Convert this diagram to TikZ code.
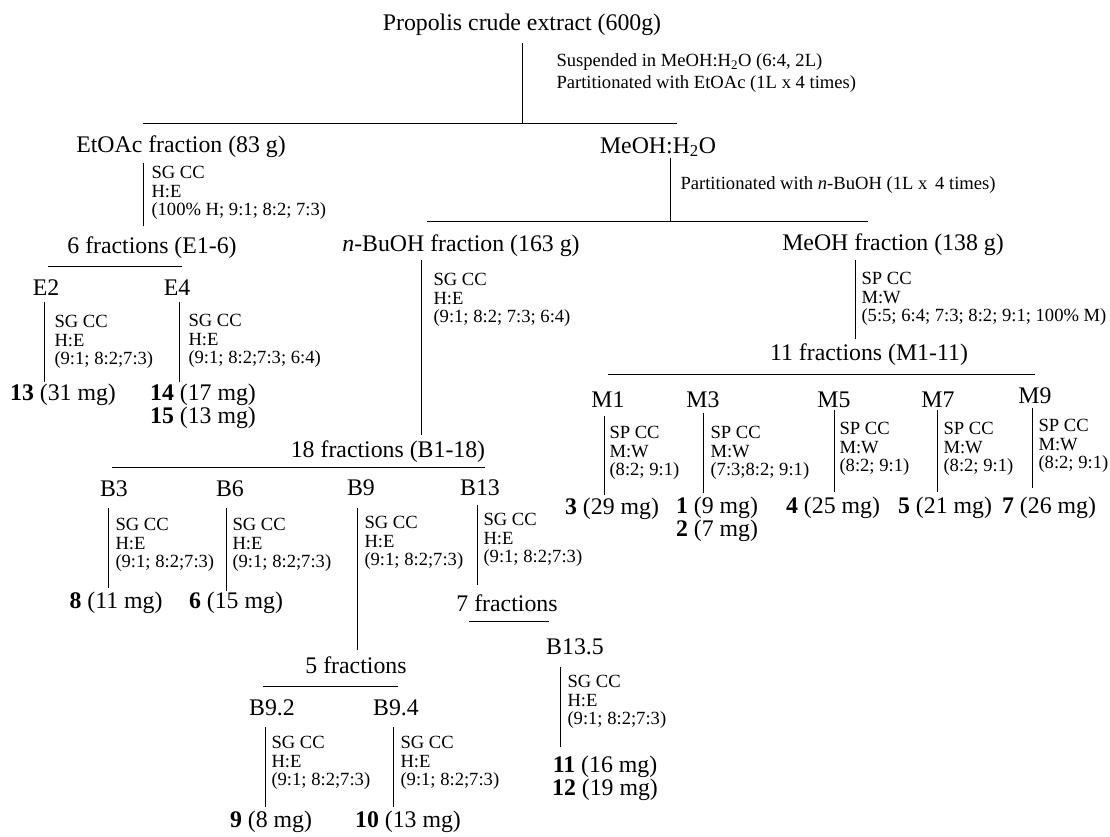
\documentclass[tikz,border=0pt]{standalone}
\usepackage{fontspec}
\setmainfont{Liberation Serif}

\newcommand{\labfont}{\fontsize{23.8pt}{27pt}\selectfont}
\newcommand{\notefont}{\fontsize{18.6pt}{18.8pt}\selectfont}

\begin{document}
\begin{tikzpicture}[x=1pt, y=-1pt, line width=1pt,
        lab/.style={font=\labfont, inner sep=0pt},
        note/.style={font=\notefont, inner sep=0pt, align=left, anchor=west}]
        \useasboundingbox (0, 0) rectangle (1110, 836);

        % partition
        \node[lab] (crude) at (522, 25) {Propolis crude extract (600g)};
        \node[note] (susp) at (556, 73) {Suspended in MeOH:H\textsubscript{2}O (6:4, 2L)\\[2.7pt]Partitionated with EtOAc (1L x 4 times)};
        \node[lab] (etoac) at (181, 147) {EtOAc fraction (83 g)};
        \node[lab] (meohw) at (658, 147) {MeOH:H\textsubscript{2}O};
        \node[note] (partn) at (680, 185) {Partitionated with \textit{n}-BuOH (1L x\, 4 times)};
        \node[lab] (nbuoh) at (461, 246) {\textit{n}-BuOH fraction (163 g)};
        \node[lab] (meohfr) at (893, 245) {MeOH fraction (138 g)};

        % EtOAc branch
        \node[note] (etoacm) at (151, 193) {SG CC\\H:E\\(100\% H; 9:1; 8:2; 7:3)};
        \node[lab] (sixfr) at (152, 248) {6 fractions (E1-6)};
        \node[lab] (e2) at (46, 288) {E2};
        \node[lab] (e4) at (177, 288) {E4};
        \node[note] (e2m) at (54, 342) {SG CC\\H:E\\(9:1; 8:2;7:3)};
        \node[note] (e4m) at (188, 341) {SG CC\\H:E\\(9:1; 8:2;7:3; 6:4)};
        \node[lab] (r13) at (63, 395) {\textbf{13} (31 mg)};
        \node[lab] (r14) at (203, 395) {\textbf{14} (17 mg)};
        \node[lab] (r15) at (203, 418) {\textbf{15} (13 mg)};

        % n-BuOH branch
        \node[note] (nbuohm) at (433, 300) {SG CC\\H:E\\(9:1; 8:2; 7:3; 6:4)};
        \node[lab] (eighteen) at (388, 452) {18 fractions (B1-18)};
        \node[lab] (b3) at (114, 489) {B3};
        \node[lab] (b6) at (230, 489) {B6};
        \node[lab] (b9) at (361, 488) {B9};
        \node[lab] (b13) at (480, 488) {B13};
        \node[note] (b3m) at (115, 545) {SG CC\\H:E\\(9:1; 8:2;7:3)};
        \node[note] (b6m) at (232, 545) {SG CC\\H:E\\(9:1; 8:2;7:3)};
        \node[note] (b9m) at (364, 543) {SG CC\\H:E\\(9:1; 8:2;7:3)};
        \node[note] (b13m) at (483, 540) {SG CC\\H:E\\(9:1; 8:2;7:3)};
        \node[lab] (r8) at (116, 603) {\textbf{8} (11 mg)};
        \node[lab] (r6) at (236, 603) {\textbf{6} (15 mg)};
        \node[lab] (seven) at (507, 603) {7 fractions};
        \node[lab] (b135) at (575, 647) {B13.5};
        \node[note] (b135m) at (567, 702) {SG CC\\H:E\\(9:1; 8:2;7:3)};
        \node[lab] (r11) at (605, 767) {\textbf{11} (16 mg)};
        \node[lab] (r12) at (605, 790) {\textbf{12} (19 mg)};
        \node[lab] (five) at (356, 665) {5 fractions};
        \node[lab] (b92) at (272, 708) {B9.2};
        \node[lab] (b94) at (396, 708) {B9.4};
        \node[note] (b92m) at (271, 763) {SG CC\\H:E\\(9:1; 8:2;7:3)};
        \node[note] (b94m) at (400, 763) {SG CC\\H:E\\(9:1; 8:2;7:3)};
        \node[lab] (r9) at (271, 822) {\textbf{9} (8 mg)};
        \node[lab] (r10) at (408, 822) {\textbf{10} (13 mg)};

        % MeOH branch
        \node[note] (meohm) at (861, 299) {SP CC\\M:W\\(5:5; 6:4; 7:3; 8:2; 9:1; 100\% M)};
        \node[lab] (eleven) at (869, 355) {11 fractions (M1-11)};
        \node[lab] (m1) at (608, 400) {M1};
        \node[lab] (m3) at (703, 400) {M3};
        \node[lab] (m5) at (834, 400) {M5};
        \node[lab] (m7) at (938, 400) {M7};
        \node[lab] (m9) at (1035, 396) {M9};
        \node[note] (m1m) at (609, 453) {SP CC\\M:W\\(8:2; 9:1)};
        \node[note] (m3m) at (710, 453) {SP CC\\M:W\\(7:3;8:2; 9:1)};
        \node[note] (m5m) at (839, 449) {SP CC\\M:W\\(8:2; 9:1)};
        \node[note] (m7m) at (943, 449) {SP CC\\M:W\\(8:2; 9:1)};
        \node[note] (m9m) at (1038, 446) {SP CC\\M:W\\(8:2; 9:1)};
        \node[lab] (r3) at (612, 509) {\textbf{3} (29 mg)};
        \node[lab] (r1) at (717, 508) {\textbf{1} (9 mg)};
        \node[lab] (r2) at (717, 531) {\textbf{2} (7 mg)};
        \node[lab] (r4) at (833, 508) {\textbf{4} (25 mg)};
        \node[lab] (r5) at (945, 508) {\textbf{5} (21 mg)};
        \node[lab] (r7) at (1049, 508) {\textbf{7} (26 mg)};

        % stems
        \draw[shorten <=18pt, shorten >=24pt] (crude.center) -- (crude.center |- etoac.center);
        \draw[shorten <=16pt, shorten >=22pt] ([xshift=-38pt]etoac.center) -- ([xshift=-38pt]etoac.center |- sixfr.center);
        \draw[shorten <=11pt, shorten >=25pt] ([xshift=12pt]meohw.center) -- ([xshift=12pt]meohw.center |- nbuoh.center);
        \draw[shorten <=14pt, shorten >=13pt] ([xshift=-2pt]e2.center) -- ([xshift=-2pt]e2.center |- r13.center);
        \draw[shorten <=14pt, shorten >=13pt] ([xshift=2pt]e4.center) -- ([xshift=2pt]e4.center |- r14.center);
        \draw[shorten <=14pt, shorten >=17pt] ([xshift=-40pt]nbuoh.center) -- ([xshift=-40pt]nbuoh.center |- eighteen.center);
        \draw[shorten <=15pt, shorten >=16pt] ([xshift=-38pt]meohfr.center) -- ([xshift=-38pt]meohfr.center |- eleven.center);
        \draw[shorten <=16pt, shorten >=14pt] ([xshift=-4pt]m1.center) -- ([xshift=-4pt]m1.center |- r3.center);
        \draw[shorten <=13pt, shorten >=15pt] (m3.center) -- (m3.center |- r1.center);
        \draw[shorten <=10pt, shorten >=16pt] (m5.center) -- (m5.center |- r4.center);
        \draw[shorten <=10pt, shorten >=16pt] ([xshift=-1pt]m7.center) -- ([xshift=-1pt]m7.center |- r5.center);
        \draw[shorten <=12pt, shorten >=20pt] ([xshift=-3pt]m9.center) -- ([xshift=-3pt]m9.center |- r7.center);
        \draw[shorten <=19pt, shorten >=15pt] ([xshift=-6pt]b3.center) -- ([xshift=-6pt]b3.center |- r8.center);
        \draw[shorten <=19pt, shorten >=12pt] ([xshift=-4pt]b6.center) -- ([xshift=-4pt]b6.center |- r6.center);
        \draw[shorten <=20pt, shorten >=15pt] ([xshift=-4pt]b9.center) -- ([xshift=-4pt]b9.center |- five.center);
        \draw[shorten <=17pt, shorten >=18pt] ([xshift=-3pt]b13.center) -- ([xshift=-3pt]b13.center |- seven.center);
        \draw[shorten <=20pt, shorten >=20pt] ([xshift=-15pt]b135.center) -- ([xshift=-15pt]b135.center |- r11.center);
        \draw[shorten <=19pt, shorten >=15pt] ([xshift=-7pt]b92.center) -- ([xshift=-7pt]b92.center |- r9.center);
        \draw[shorten <=19pt, shorten >=15pt] ([xshift=-3pt]b94.center) -- ([xshift=-3pt]b94.center |- r10.center);

        % bars
        \coordinate (bar1w) at (143, 123);  \coordinate (bar1e) at (677, 123);
        \coordinate (bar2w) at (48, 266);   \coordinate (bar2e) at (182, 266);
        \coordinate (bar3w) at (427, 221);  \coordinate (bar3e) at (868, 221);
        \coordinate (bar4w) at (608, 374);  \coordinate (bar4e) at (1035, 374);
        \coordinate (bar5w) at (112, 467);  \coordinate (bar5e) at (485, 467);
        \coordinate (bar6w) at (469, 621);  \coordinate (bar6e) at (549, 621);
        \coordinate (bar7w) at (263, 686);  \coordinate (bar7e) at (398, 686);
        \foreach \i in {1,...,7}
                \draw (bar\i w) -- (bar\i e);
\end{tikzpicture}
\end{document}
